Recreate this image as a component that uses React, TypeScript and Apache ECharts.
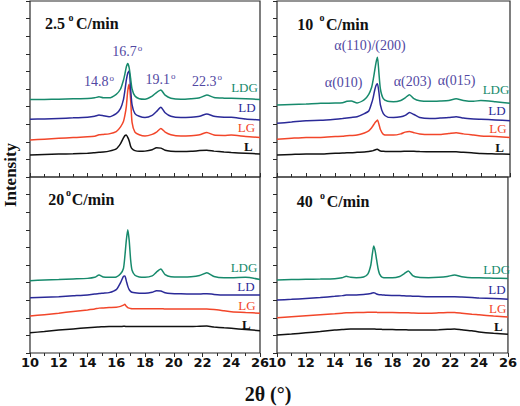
import React, { useEffect, useRef } from "react";
import * as echarts from "echarts";

// 2θ sampling positions (degrees)
const THETA = [10, 11, 12, 13, 14, 14.5, 14.8, 15.1, 15.5, 16.0, 16.3, 16.5, 16.6, 16.7, 16.8, 16.9, 17.0, 17.1, 17.3, 17.6, 18.0, 18.5, 18.8, 19.1, 19.4, 19.8, 20.5, 21.2, 21.8, 22.3, 22.8, 23.5, 24.0, 25.0, 26.0];

// Panel 2.5 °C/min (offset intensities, arbitrary units)
const L_2_5 = [1.25, 1.28, 1.30, 1.32, 1.35, 1.38, 1.40, 1.42, 1.47, 1.60, 1.90, 2.22, 2.35, 2.39, 2.25, 2.05, 1.75, 1.60, 1.50, 1.46, 1.47, 1.55, 1.66, 1.64, 1.52, 1.47, 1.45, 1.46, 1.50, 1.52, 1.47, 1.42, 1.39, 1.35, 1.31];
const LG_2_5 = [2.10, 2.15, 2.20, 2.24, 2.28, 2.32, 2.40, 2.42, 2.45, 2.58, 2.85, 3.15, 3.50, 4.00, 4.90, 5.27, 4.40, 3.10, 2.55, 2.40, 2.33, 2.42, 2.55, 2.76, 2.55, 2.40, 2.33, 2.35, 2.40, 2.53, 2.38, 2.36, 2.38, 2.30, 2.25];
const LD_2_5 = [3.28, 3.30, 3.33, 3.36, 3.40, 3.45, 3.52, 3.48, 3.42, 3.60, 3.90, 4.40, 4.90, 5.50, 5.90, 6.02, 5.00, 4.10, 3.60, 3.45, 3.38, 3.50, 3.72, 3.96, 3.65, 3.45, 3.38, 3.40, 3.45, 3.58, 3.45, 3.40, 3.39, 3.30, 3.24];
const LDG_2_5 = [4.41, 4.41, 4.42, 4.44, 4.46, 4.50, 4.56, 4.50, 4.50, 4.70, 5.00, 5.50, 5.85, 6.25, 6.45, 6.20, 5.60, 5.00, 4.60, 4.45, 4.42, 4.60, 4.80, 4.94, 4.65, 4.48, 4.42, 4.45, 4.50, 4.66, 4.52, 4.48, 4.47, 4.44, 4.41];

// Panel 10 °C/min
const L_10 = [1.25, 1.28, 1.31, 1.30, 1.35, 1.36, 1.38, 1.38, 1.40, 1.42, 1.45, 1.48, 1.50, 1.53, 1.56, 1.57, 1.52, 1.48, 1.46, 1.45, 1.45, 1.45, 1.46, 1.47, 1.46, 1.45, 1.44, 1.44, 1.43, 1.43, 1.40, 1.37, 1.33, 1.31, 1.29];
const LG_10 = [2.14, 2.20, 2.25, 2.25, 2.30, 2.32, 2.35, 2.36, 2.38, 2.50, 2.62, 2.80, 2.92, 3.05, 3.15, 3.24, 3.00, 2.70, 2.42, 2.38, 2.38, 2.45, 2.55, 2.58, 2.52, 2.45, 2.42, 2.42, 2.47, 2.52, 2.45, 2.38, 2.33, 2.30, 2.25];
const LD_10 = [3.05, 3.12, 3.20, 3.22, 3.28, 3.32, 3.35, 3.38, 3.42, 3.60, 3.75, 4.20, 4.50, 4.90, 5.20, 5.30, 4.80, 4.10, 3.60, 3.40, 3.38, 3.42, 3.50, 3.66, 3.55, 3.38, 3.32, 3.35, 3.38, 3.43, 3.35, 3.30, 3.28, 3.24, 3.20];
const LDG_10 = [4.09, 4.12, 4.15, 4.19, 4.20, 4.22, 4.30, 4.32, 4.21, 4.40, 4.70, 5.10, 5.50, 6.00, 6.50, 6.80, 5.90, 5.00, 4.45, 4.30, 4.28, 4.35, 4.50, 4.68, 4.45, 4.33, 4.30, 4.32, 4.35, 4.45, 4.35, 4.30, 4.35, 4.28, 4.19];

// Panel 20 °C/min
const L_20 = [1.15, 1.22, 1.30, 1.37, 1.44, 1.47, 1.48, 1.49, 1.50, 1.50, 1.50, 1.52, 1.52, 1.50, 1.50, 1.50, 1.50, 1.50, 1.50, 1.50, 1.50, 1.50, 1.50, 1.50, 1.50, 1.50, 1.50, 1.50, 1.52, 1.53, 1.48, 1.43, 1.40, 1.33, 1.27];
const LG_20 = [2.10, 2.18, 2.26, 2.36, 2.45, 2.50, 2.55, 2.56, 2.58, 2.60, 2.65, 2.72, 2.77, 2.65, 2.58, 2.55, 2.53, 2.52, 2.52, 2.52, 2.52, 2.52, 2.52, 2.52, 2.50, 2.50, 2.50, 2.50, 2.50, 2.50, 2.47, 2.40, 2.35, 2.30, 2.26];
const LD_20 = [3.14, 3.17, 3.20, 3.25, 3.30, 3.35, 3.38, 3.40, 3.43, 3.60, 4.00, 4.35, 4.37, 4.10, 3.80, 3.60, 3.50, 3.45, 3.42, 3.40, 3.39, 3.45, 3.54, 3.52, 3.42, 3.38, 3.36, 3.35, 3.35, 3.37, 3.33, 3.30, 3.30, 3.30, 3.30];
const LDG_20 = [4.11, 4.15, 4.18, 4.21, 4.24, 4.30, 4.43, 4.32, 4.30, 4.32, 4.50, 4.80, 5.50, 6.40, 7.00, 6.40, 5.30, 4.70, 4.42, 4.32, 4.30, 4.38, 4.60, 4.77, 4.45, 4.33, 4.32, 4.33, 4.40, 4.56, 4.35, 4.28, 4.28, 4.30, 4.18];

// Panel 40 °C/min
const L_40 = [1.02, 1.08, 1.15, 1.22, 1.30, 1.33, 1.35, 1.36, 1.36, 1.36, 1.36, 1.37, 1.37, 1.36, 1.36, 1.35, 1.35, 1.35, 1.34, 1.33, 1.33, 1.32, 1.32, 1.31, 1.31, 1.30, 1.30, 1.32, 1.35, 1.37, 1.32, 1.26, 1.20, 1.12, 1.06];
const LG_40 = [2.00, 2.06, 2.12, 2.18, 2.23, 2.26, 2.28, 2.29, 2.30, 2.30, 2.31, 2.32, 2.32, 2.32, 2.31, 2.31, 2.30, 2.30, 2.30, 2.30, 2.30, 2.29, 2.28, 2.28, 2.27, 2.26, 2.26, 2.28, 2.30, 2.30, 2.26, 2.20, 2.17, 2.10, 2.05];
const LD_40 = [3.01, 3.05, 3.10, 3.15, 3.22, 3.26, 3.29, 3.30, 3.30, 3.32, 3.35, 3.38, 3.41, 3.42, 3.40, 3.35, 3.32, 3.31, 3.30, 3.28, 3.27, 3.26, 3.25, 3.24, 3.23, 3.22, 3.20, 3.20, 3.20, 3.20, 3.18, 3.15, 3.12, 3.09, 3.06];
const LDG_40 = [4.15, 4.17, 4.19, 4.20, 4.22, 4.27, 4.36, 4.30, 4.28, 4.32, 4.50, 5.00, 5.60, 6.08, 5.80, 5.30, 4.80, 4.50, 4.30, 4.27, 4.27, 4.35, 4.50, 4.66, 4.40, 4.30, 4.28, 4.30, 4.35, 4.43, 4.33, 4.27, 4.27, 4.25, 4.23];

const SAMPLE_NAMES = ["L", "LG", "LD", "LDG"];
const RATE_TITLES = ["2.5", "10", "20", "40"];
const X_TICKS = [10, 12, 14, 16, 18, 20, 22, 24, 26];
const PEAK_LABELS_DEG = ["14.8", "16.7", "19.1", "22.3"];
const PEAK_LABELS_HKL = ["α(010)", "α(110)/(200)", "α(203)", "α(015)"];

const PANEL_DATA = [
  [L_2_5, LG_2_5, LD_2_5, LDG_2_5],
  [L_10, LG_10, LD_10, LDG_10],
  [L_20, LG_20, LD_20, LDG_20],
  [L_40, LG_40, LD_40, LDG_40],
];

const COLORS = ["#111111", "#f2462a", "#2b2a98", "#178a6c"];
const ANNOT = "#5148a2";
const SERIF = "'Liberation Serif', 'Times New Roman', serif";
const SANS = "'DejaVu Sans', sans-serif";

const GRIDS = [
  { left: 30, top: 1, width: 230, height: 176 },
  { left: 277, top: 1, width: 233, height: 176 },
  { left: 30, top: 177, width: 230, height: 176 },
  { left: 277, top: 177, width: 233, height: 176 },
];

function txt(x: number, y: number, text: string, o: any = {}) {
  return {
    type: "text",
    x,
    y,
    rotation: o.rotation || 0,
    silent: true,
    style: {
      text,
      fill: o.fill || "#111",
      font: `${o.weight || "normal"} ${o.size || 14}px ${o.family || SERIF}`,
      align: o.align || "center",
      verticalAlign: "middle",
    },
  };
}

export default function App() {
  const ref = useRef<HTMLDivElement>(null);
  useEffect(() => {
    if (!ref.current) return;
    const chart = echarts.init(ref.current, null, { renderer: "svg" });

    const grid = GRIDS.map((g) => ({
      ...g,
      show: true,
      borderColor: "#2a2a2a",
      borderWidth: 1.2,
      backgroundColor: "transparent",
      containLabel: false,
    }));

    const xAxis = GRIDS.map((_, i) => {
      const bottom = i >= 2;
      return {
        type: "value",
        gridIndex: i,
        min: X_TICKS[0],
        max: X_TICKS[X_TICKS.length - 1],
        interval: 2,
        axisLine: { show: false },
        axisTick: { show: true, inside: !bottom, length: 4, lineStyle: { color: "#2a2a2a", width: 1 } },
        minorTick: { show: true, splitNumber: 2, length: 3, lineStyle: { color: "#2a2a2a", width: 1 } },
        splitLine: { show: false },
        axisLabel: {
          show: bottom,
          margin: 3,
          color: "#111",
          fontFamily: SANS,
          fontWeight: "bold",
          fontSize: 13,
          showMinLabel: true,
          showMaxLabel: true,
        },
      };
    });

    const yAxis = GRIDS.map((_, i) => ({
      type: "value",
      gridIndex: i,
      min: 0,
      max: 10,
      interval: 1,
      axisLine: { show: false },
      axisTick: { show: true, inside: false, length: 4, lineStyle: { color: "#2a2a2a", width: 1 } },
      axisLabel: { show: false },
      splitLine: { show: false },
    }));

    const series: any[] = [];
    PANEL_DATA.forEach((panel, p) => {
      panel.forEach((vals, s) => {
        series.push({
          type: "line",
          name: `${RATE_TITLES[p]}-${SAMPLE_NAMES[s]}`,
          xAxisIndex: p,
          yAxisIndex: p,
          data: THETA.map((t, k) => [t, vals[k]]),
          showSymbol: false,
          symbol: "none",
          smooth: 0.2,
          lineStyle: { color: COLORS[s], width: 1.5 },
          silent: true,
          z: 2 + s,
        });
      });
    });

    const graphic: any[] = [];
    // rate titles
    const titlePos = [
      { n: [45, 23.5], o: [68.5, 17.5], c: [76, 23.5] },
      { n: [297.3, 24.3], o: [319.5, 17.8], c: [326, 24.3] },
      { n: [48.3, 199], o: [66, 192.5], c: [71.7, 199] },
      { n: [296.7, 201.5], o: [320, 195], c: [326.7, 201.5] },
    ];
    titlePos.forEach((tp, i) => {
      graphic.push(txt(tp.n[0], tp.n[1], RATE_TITLES[i], { weight: "bold", size: 16, align: "left" }));
      graphic.push(txt(tp.o[0], tp.o[1], "o", { weight: "bold", size: 10, align: "left" }));
      graphic.push(txt(tp.c[0], tp.c[1], "C/min", { weight: "bold", size: 16, align: "left" }));
    });

    // sample labels
    const labelPos = [
      [[248.3, 146.5], [246.5, 127.5], [247, 107.5], [244.5, 87.5]],
      [[499.5, 147.5], [498, 128.5], [497, 110], [496, 89.5]],
      [[246.3, 324], [247, 305.5], [246, 286.5], [244, 267]],
      [[498.3, 326.7], [497.7, 308], [497, 289], [496.7, 269]],
    ];
    labelPos.forEach((panel) =>
      panel.forEach((pos, s) => {
        graphic.push(
          txt(pos[0], pos[1], SAMPLE_NAMES[s], {
            fill: COLORS[s],
            size: 13,
            weight: s === 0 ? "bold" : "normal",
          })
        );
      })
    );

    // peak position labels (2.5 °C/min panel)
    const degPos = [
      [108.5, 81.5],
      [136.7, 51.5],
      [170, 79.5],
      [216.5, 81],
    ];
    degPos.forEach((pos, i) => {
      graphic.push(txt(pos[0], pos[1], PEAK_LABELS_DEG[i], { fill: ANNOT, size: 14, align: "right" }));
      graphic.push(txt(pos[0] + 1, pos[1] - 4, "o", { fill: ANNOT, size: 9, align: "left" }));
    });

    // crystal plane labels (10 °C/min panel)
    const hklPos = [
      [343.7, 82],
      [370, 45],
      [412.5, 81],
      [456.7, 80],
    ];
    hklPos.forEach((pos, i) => {
      graphic.push(txt(pos[0], pos[1], PEAK_LABELS_HKL[i], { fill: ANNOT, size: 14 }));
    });

    // axis titles
    graphic.push(txt(10, 175, "Intensity", { weight: "bold", size: 17, rotation: Math.PI / 2 }));
    graphic.push(txt(268, 394, "2θ (°)", { weight: "bold", size: 20 }));

    chart.setOption({
      animation: false,
      backgroundColor: "#ffffff",
      grid,
      xAxis,
      yAxis,
      series,
      graphic,
    });
    return () => chart.dispose();
  }, []);

  return (
    <div
      ref={ref}
      style={{ position: "absolute", left: 0, top: 0, width: 520, height: 406, background: "#fff" }}
    />
  );
}
